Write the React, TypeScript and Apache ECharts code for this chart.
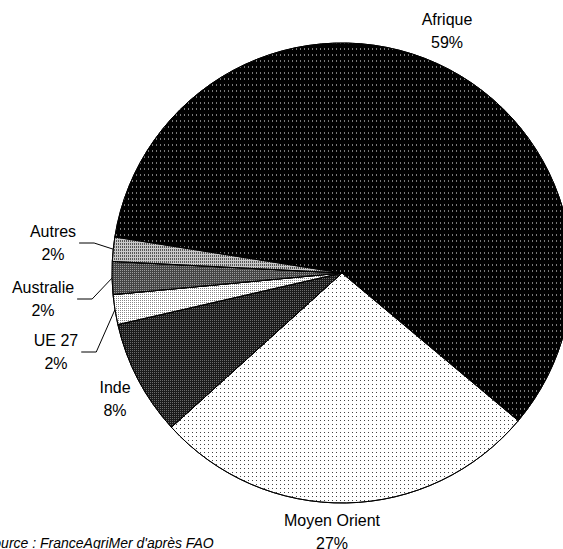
import React, { useEffect, useRef } from "react";
import * as echarts from "echarts";

const categories = ["Afrique", "Moyen Orient", "Inde", "UE 27", "Australie", "Autres"];
const shares = [58.6, 27.2, 8.1, 2.1, 2.3, 1.7];
const sourceNote = "Source : FranceAgriMer d'après FAO";

// styles per slice (fill + pattern)
const fills = ["#000000", "#ffffff", "#1a1a1a", "#ffffff", "#444444", "#c8c8c8"];
const decals = [
  { symbol: "rect", symbolSize: 1, color: "#7a7a7a", dashArrayX: [1, 3], dashArrayY: [2, 4] },
  { symbol: "rect", symbolSize: 1, color: "#444444", dashArrayX: [1, 3], dashArrayY: [1, 3] },
  { symbol: "rect", symbolSize: 1, color: "#6a6a6a", dashArrayX: [1, 1], dashArrayY: [1, 1] },
  { symbol: "rect", symbolSize: 1, color: "#888888", dashArrayX: [1, 1], dashArrayY: [1, 1] },
  { symbol: "rect", symbolSize: 1, color: "#9a9a9a", dashArrayX: [1, 1], dashArrayY: [1, 1] },
  { symbol: "rect", symbolSize: 1, color: "#555555", dashArrayX: [1, 1], dashArrayY: [2, 1] },
];
const showLeader = [false, false, false, true, true, true];
// label centre positions (layout)
const labelPos = [
  [447, 31],
  [332, 532],
  [115, 399],
  [56, 352],
  [43, 299],
  [53, 243],
];

export default function App() {
  const ref = useRef<HTMLDivElement>(null);
  useEffect(() => {
    if (!ref.current) return;
    const chart = echarts.init(ref.current, null, { renderer: "svg" });
    const font = "'Liberation Sans', Arial, sans-serif";
    chart.setOption({
      animation: false,
      backgroundColor: "#ffffff",
      graphic: [
        {
          type: "text",
          x: -16,
          y: 543,
          style: {
            text: sourceNote,
            font: `italic 14px ${font}`,
            fill: "#000",
            textVerticalAlign: "middle",
          },
        },
      ],
      series: [
        {
          type: "pie",
          center: [342, 273],
          radius: [0, 230],
          startAngle: 171,
          clockwise: true,
          avoidLabelOverlap: false,
          itemStyle: { borderColor: "#000", borderWidth: 1 },
          label: {
            show: true,
            position: "outside",
            color: "#000",
            fontFamily: font,
            fontSize: 16,
            lineHeight: 23,
            align: "center",
            padding: [0, 3, 0, 3],
            formatter: (p: any) => `${p.name}\n${Math.round(p.percent)}%`,
          },
          labelLine: {
            show: true,
            length: 10,
            length2: 15,
            lineStyle: { color: "#000", width: 1 },
          },
          labelLayout: (params: any) => {
            const pos = labelPos[params.dataIndex];
            return { x: pos[0], y: pos[1], align: "center", verticalAlign: "middle" };
          },
          data: categories.map((name, i) => ({
            name,
            value: shares[i],
            itemStyle: { color: fills[i], decal: decals[i] },
            labelLine: { show: showLeader[i] },
          })),
        },
      ],
    });
    return () => chart.dispose();
  }, []);
  return (
    <div
      ref={ref}
      style={{ position: "fixed", left: 0, top: 0, width: 563, height: 549 }}
    />
  );
}
